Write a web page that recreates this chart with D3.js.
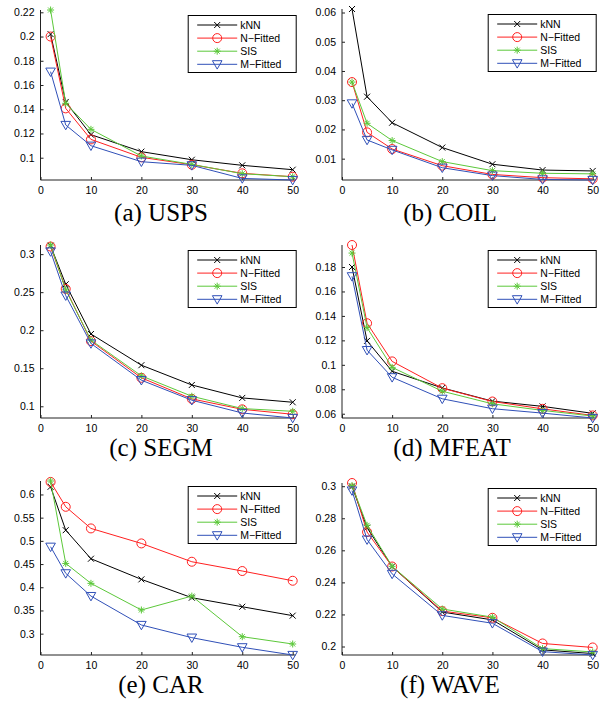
<!DOCTYPE html>
<html>
<head>
<meta charset="utf-8">
<script src="https://cdn.jsdelivr.net/npm/d3@7"></script>
<style>
  body { margin: 0; background: #fff; }
  svg { display: block; }
  .tick-label { font-family: "Liberation Sans", Arial, Helvetica, sans-serif; font-size: 10.5px; fill: #000; }
  .legend-text { font-family: "Liberation Sans", Arial, Helvetica, sans-serif; font-size: 10.5px; fill: #000; }
  .caption { font-family: "Liberation Serif", "Times New Roman", serif; font-size: 25px; fill: #000; }
</style>
</head>
<body>
<svg id="chart" width="605" height="707"></svg>
<script>
// x 值（邻居数）
const xVals = [2, 5, 10, 20, 30, 40, 50];
const xTicks = [0, 10, 20, 30, 40, 50];
const seriesNames = ['kNN', 'N\u2212Fitted', 'SIS', 'M\u2212Fitted'];
const seriesColors = ['#000000', '#ff2020', '#5cc83a', '#3050b8'];
const seriesMarkers = ['x', 'o', '*', 'v'];

// 每个数据集: [kNN, N-Fitted, SIS, M-Fitted]
const usps = [
  [0.202, 0.146, 0.119, 0.105, 0.0983, 0.0937, 0.0901],
  [0.200, 0.1407, 0.1151, 0.1003, 0.0942, 0.0871, 0.0843],
  [0.2219, 0.1449, 0.1234, 0.1014, 0.0945, 0.0868, 0.0843],
  [0.171, 0.127, 0.1099, 0.0967, 0.0937, 0.0829, 0.0816]
];
const coil = [
  [0.0612, 0.0312, 0.0223, 0.0138, 0.0081, 0.0061, 0.0058],
  [0.0362, 0.0190, 0.0133, 0.0076, 0.0046, 0.0035, 0.0031],
  [0.0362, 0.0221, 0.0162, 0.0090, 0.0059, 0.0050, 0.0048],
  [0.0289, 0.0164, 0.0130, 0.0069, 0.0042, 0.0029, 0.0027]
];
const segm = [
  [0.311, 0.2604, 0.195, 0.154, 0.128, 0.111, 0.1053],
  [0.310, 0.2543, 0.1857, 0.1374, 0.1097, 0.096, 0.0895],
  [0.312, 0.253, 0.187, 0.140, 0.1132, 0.097, 0.0934],
  [0.3035, 0.2455, 0.1826, 0.1343, 0.108, 0.0912, 0.0846]
];
const mfeat = [
  [0.180, 0.1196, 0.0947, 0.0811, 0.0703, 0.066, 0.0603],
  [0.198, 0.134, 0.1028, 0.0809, 0.070, 0.064, 0.0586],
  [0.1914, 0.1304, 0.0979, 0.0784, 0.0681, 0.0627, 0.0581],
  [0.1724, 0.112, 0.0898, 0.0722, 0.0641, 0.0605, 0.0565]
];
const car = [
  [0.6165, 0.523, 0.4615, 0.417, 0.3775, 0.358, 0.3388],
  [0.627, 0.5734, 0.5268, 0.4945, 0.455, 0.435, 0.414],
  [0.629, 0.4514, 0.4084, 0.351, 0.381, 0.2935, 0.2777],
  [0.4873, 0.430, 0.381, 0.3187, 0.2914, 0.2706, 0.254]
];
const wave = [
  [0.2998, 0.2741, 0.2499, 0.2215, 0.2166, 0.1979, 0.1956],
  [0.302, 0.2714, 0.2499, 0.2221, 0.2179, 0.2019, 0.1994],
  [0.3004, 0.2756, 0.250, 0.2234, 0.2183, 0.1987, 0.1966],
  [0.2973, 0.2667, 0.2453, 0.2194, 0.2145, 0.1968, 0.1947]
];

// y 轴刻度
const uspsTicks = [0.1, 0.12, 0.14, 0.16, 0.18, 0.2, 0.22];
const coilTicks = [0.01, 0.02, 0.03, 0.04, 0.05, 0.06];
const segmTicks = [0.1, 0.15, 0.2, 0.25, 0.3];
const mfeatTicks = [0.06, 0.08, 0.1, 0.12, 0.14, 0.16, 0.18];
const carTicks = [0.3, 0.35, 0.4, 0.45, 0.5, 0.55, 0.6];
const waveTicks = [0.2, 0.22, 0.24, 0.26, 0.28, 0.3];

const captions = ['(a) USPS', '(b) COIL', '(c) SEGM', '(d) MFEAT', '(e) CAR', '(f) WAVE'];

const panels = [
  { data: usps, ticks: uspsTicks, left: 40.5, right: 292.7, top: 10, bottom: 180, capX: 161, capY: 221 },
  { data: coil, ticks: coilTicks, left: 342, right: 592.7, top: 9, bottom: 180, capX: 450, capY: 221 },
  { data: segm, ticks: segmTicks, left: 40.5, right: 292.7, top: 245, bottom: 418, capX: 161, capY: 456 },
  { data: mfeat, ticks: mfeatTicks, left: 342, right: 592.7, top: 245, bottom: 418, capX: 452, capY: 456 },
  { data: car, ticks: carTicks, left: 40.5, right: 292.7, top: 481, bottom: 655, capX: 161, capY: 693 },
  { data: wave, ticks: waveTicks, left: 342, right: 592.7, top: 483, bottom: 655, capX: 450, capY: 693 }
];

const svg = d3.select('#chart');

function drawMarker(g, type, color) {
  if (type === 'x') {
    g.append('path').attr('d', 'M-3,-3L3,3M-3,3L3,-3')
      .attr('stroke', color).attr('stroke-width', 1).attr('fill', 'none');
  } else if (type === 'o') {
    g.append('circle').attr('r', 4.5)
      .attr('stroke', color).attr('stroke-width', 1).attr('fill', 'none');
  } else if (type === '*') {
    g.append('path').attr('d', 'M0,-3.5L0,3.5M-3.5,0L3.5,0M-2.5,-2.5L2.5,2.5M-2.5,2.5L2.5,-2.5')
      .attr('stroke', color).attr('stroke-width', 1).attr('fill', 'none');
  } else if (type === 'v') {
    g.append('path').attr('d', 'M-4.8,-3.6L4.8,-3.6L0,4.8Z')
      .attr('stroke', color).attr('stroke-width', 1).attr('fill', 'none');
  }
}

panels.forEach((p, pi) => {
  const all = p.data.flat();
  const x = d3.scaleLinear().domain([0, 50]).range([p.left, p.right]);
  const y = d3.scaleLinear().domain(d3.extent(all)).range([p.bottom, p.top]);

  const g = svg.append('g');

  // 坐标轴（刻度朝内）
  const xAxis = d3.axisBottom(x).tickValues(xTicks).tickSize(-3).tickPadding(7)
    .tickFormat(d3.format('d'));
  const gx = g.append('g').attr('transform', `translate(0,${p.bottom})`).call(xAxis);
  gx.select('.domain').attr('d', `M${p.left},0H${p.right + 3}`);

  const yAxis = d3.axisLeft(y).tickValues(p.ticks).tickSize(-3).tickPadding(6)
    .tickFormat(d => String(+d.toFixed(3)));
  const gy = g.append('g').attr('transform', `translate(${p.left},0)`).call(yAxis);
  gy.select('.domain').attr('d', `M0,${p.bottom}V${p.top}`);

  [gx, gy].forEach(a => {
    a.selectAll('.domain').attr('stroke', '#222').attr('stroke-width', 1);
    a.selectAll('.tick line').attr('stroke', '#222');
    a.selectAll('.tick text').attr('class', 'tick-label').attr('font-size', null).attr('font-family', null);
  });
  gx.attr('font-size', null).attr('font-family', null);
  gy.attr('font-size', null).attr('font-family', null);

  // 折线和标记
  const line = d3.line().x((d, i) => x(xVals[i])).y(d => y(d));
  p.data.forEach((vals, si) => {
    g.append('path').datum(vals)
      .attr('d', line)
      .attr('fill', 'none')
      .attr('stroke', seriesColors[si])
      .attr('stroke-width', 1);
    vals.forEach((v, i) => {
      const m = g.append('g').attr('transform', `translate(${x(xVals[i])},${y(v)})`);
      drawMarker(m, seriesMarkers[si], seriesColors[si]);
    });
  });

  // 图例
  const lw = 108, lh = 57;
  const lx = p.right + 3.5 - lw, ly = p.top + 5.5;
  const lg = g.append('g').attr('transform', `translate(${lx},${ly})`);
  lg.append('rect').attr('width', lw).attr('height', lh)
    .attr('fill', '#fff').attr('stroke', '#000').attr('stroke-width', 1);
  seriesNames.forEach((name, si) => {
    const ry = 9.5 + si * 13.1;
    lg.append('line').attr('x1', 9).attr('x2', 49).attr('y1', ry).attr('y2', ry)
      .attr('stroke', seriesColors[si]).attr('stroke-width', 1);
    drawMarker(lg.append('g').attr('transform', `translate(29,${ry})`), seriesMarkers[si], seriesColors[si]);
    lg.append('text').attr('class', 'legend-text').attr('x', 52).attr('y', ry + 3.8).text(name);
  });

  // 标题
  svg.append('text').attr('class', 'caption')
    .attr('x', p.capX).attr('y', p.capY)
    .attr('text-anchor', 'middle')
    .text(captions[pi]);
});
</script>
</body>
</html>
